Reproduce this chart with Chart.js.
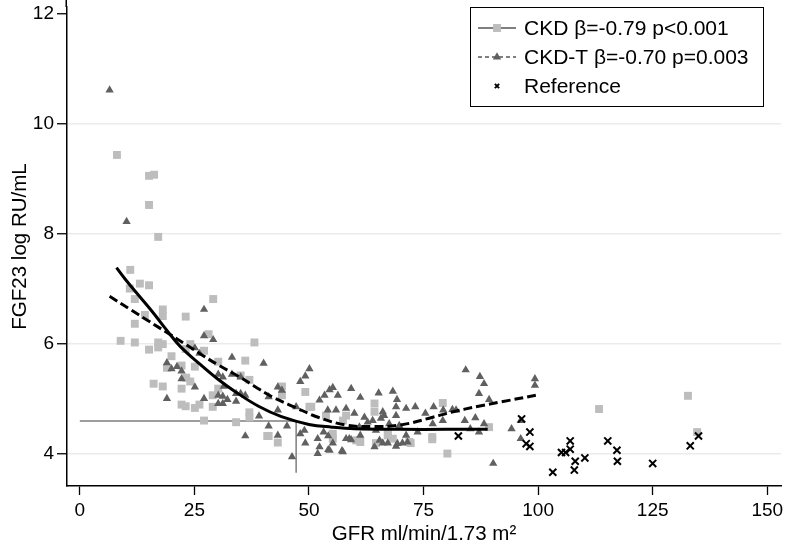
<!DOCTYPE html>
<html>
<head>
<meta charset="utf-8">
<script src="https://cdn.jsdelivr.net/npm/chart.js@4.4.1/dist/chart.umd.min.js"></script>
<style>
  html, body { margin: 0; padding: 0; background: #fff; }
  #wrap { width: 788px; height: 547px; }
</style>
</head>
<body>
<div id="wrap"><canvas id="fgfChart"></canvas></div>
<script>
// tick labels
const xTicks = [0, 25, 50, 75, 100, 125, 150];
const yTicks = [4, 6, 8, 10, 12];

// CKD (squares) [GFR, FGF23]
const ckdPts = [
  [8.1,9.44],[15.1,9.06],[16.2,9.08],[15.1,8.53],[17.1,7.95],[11.0,7.35],[13.1,7.1],[15.1,7.07],
  [10.9,7.01],[12.0,6.82],[29.1,6.82],[18.1,6.63],[18.1,6.51],[14.2,6.53],[23.1,6.50],[12.0,6.37],
  [28.1,6.18],[8.9,6.06],[12.0,6.03],[38.1,6.03],[17.1,6.03],[18.1,6.0],[17.1,5.94],[15.1,5.9],
  [24.1,6.0],[23.1,5.91],[27.1,5.88],[20.0,5.78],[36.1,5.70],[30.2,5.68],[22.2,5.61],[19.0,5.57],
  [25.1,5.59],[35.1,5.43],[37.0,5.35],[23.2,5.39],[24.1,5.32],[16.1,5.28],[18.1,5.23],[22.2,5.19],
  [30.2,5.19],[44.1,5.23],[44.1,5.07],[49.2,5.13],[29.0,5.07],[29.0,4.86],[22.2,4.9],[23.1,4.87],
  [25.1,4.84],[26.1,4.9],[50.1,4.86],[37.0,4.76],[37.0,4.67],[27.1,4.61],[34.1,4.58],[41.2,4.33],
  [43.2,4.21],[40.9,4.33],[55.2,4.37],[55.2,4.28],[60.3,4.25],[61.2,4.22],[64.6,4.2],[67.2,4.34],
  [72.2,4.2],[76.9,4.31],[76.9,4.27],[80.2,4.01],[79.2,4.93],[89.3,4.49],[64.3,4.92],[64.3,4.77],
  [58.1,4.7],[61.0,4.25],[67.2,4.37],[68.3,4.28],[71.9,4.22],[50.5,4.86],[57.4,4.61],[53.7,4.7],
  [113.3,4.82],[132.7,5.06],[134.7,4.4]
];

// CKD-T (triangles)
const ckdtPts = [
  [6.5,10.62],[10.2,8.23],[27.1,6.63],[27.1,6.15],[29.1,6.08],[25.1,5.93],[26.1,5.83],[33.2,5.76],
  [40.1,5.65],[19.0,5.66],[21.2,5.59],[20.0,5.55],[22.2,5.51],[30.2,5.45],[31.2,5.40],[33.2,5.45],
  [35.1,5.40],[50.1,5.55],[49.2,5.42],[48.1,5.32],[22.2,5.37],[25.1,5.22],[31.4,5.23],[43.2,5.22],
  [44.1,5.16],[30.2,5.07],[31.2,5.05],[34.1,5.10],[35.1,5.10],[36.1,5.07],[32.2,4.99],[34.1,4.96],
  [19.0,5.01],[27.1,5.01],[30.2,4.92],[31.2,4.92],[41.2,5.04],[47.2,4.86],[43.2,4.80],[39.1,4.69],
  [41.2,4.51],[45.2,4.51],[48.1,4.37],[49.2,4.2],[36.1,4.33],[43.2,4.34],[46.3,3.95],[51.9,4.28],
  [51.9,4.01],[54.2,4.08],[57.2,4.06],[53.2,4.4],[54.2,4.33],[55.2,4.2],[58.1,4.28],[59.2,4.26],
  [61.2,4.34],[64.3,4.13],[66.1,4.2],[67.2,4.2],[69.0,4.14],[69.3,4.19],[70.4,4.2],[71.5,4.22],
  [52.3,4.98],[53.4,5.07],[54.5,5.17],[55.2,5.21],[56.3,5.07],[59.2,5.19],[61.2,5.03],[65.2,5.11],
  [68.3,5.14],[69.2,4.99],[73.2,4.86],[71.2,4.83],[77.2,4.86],[79.3,4.80],[81.3,4.81],[82.1,4.8],
  [84.2,5.53],[87.3,5.41],[88.2,5.28],[87.1,5.1],[89.3,4.99],[99.3,5.37],[99.3,5.25],[94.2,4.46],
  [96.2,4.61],[96.2,4.28],[88.2,4.55],[87.1,4.40],[86.3,4.66],[84.0,4.61],[85.2,4.46],[52.3,4.13],
  [54.5,4.07],[57.4,4.04],[58.8,4.28],[62.8,4.58],[63.9,4.61],[65.7,4.65],[66.4,4.7],[67.5,4.55],
  [69.7,4.52],[71.2,4.34],[73.7,4.4],[75.4,4.74],[77.0,4.55],[79.2,4.61],[49.0,4.43],[61.0,4.49],
  [65.4,4.25],[64.6,4.43],[54.1,4.8],[55.9,4.8],[58.1,4.83],[59.9,4.74],[62.1,4.67],[66.1,4.77],
  [69.0,4.7],[69.0,4.86],[90.2,3.83]
];

// Reference (x markers)
const refPts = [
  [82.6,4.33],[96.4,4.64],[98.2,4.4],[97.4,4.19],[98.2,4.14],[103.2,3.67],[105.1,4.03],[106.0,4.03],
  [107.0,4.24],[107.0,4.09],[108.1,3.87],[107.9,3.71],[110.2,3.93],[115.2,4.24],[117.2,4.07],
  [117.3,3.87],[125.0,3.83],[133.2,4.15],[135.0,4.33]
];

// fitted curves
const ckdFit = [
  [8,7.39],[10,7.17],[13,6.87],[16,6.57],[19,6.25],[22,5.95],[26,5.65],[30,5.37],[34,5.13],
  [39,4.87],[44,4.68],[50,4.54],[55,4.49],[60,4.46],[70,4.45],[80,4.45],[89,4.45]
];
const ckdtFit = [
  [6.5,6.87],[11,6.63],[15,6.42],[19.6,6.18],[23,6.0],[26.9,5.79],[30,5.63],[34.9,5.4],[38,5.24],
  [42,5.04],[47,4.85],[52,4.67],[58,4.53],[64,4.5],[70,4.53],[77,4.67],[81,4.76],[87,4.87],
  [92,4.95],[99.5,5.07]
];

// reference cut-off guide
const cutLine = [[0,4.6],[47.2,4.6],[47.2,3.66]];

const xy = arr => arr.map(p => ({x: p[0], y: p[1]}));
const FONT = '"Liberation Sans", Arial, sans-serif';

const boxLegend = {
  id: 'boxLegend',
  afterDraw(chart) {
    const ctx = chart.ctx, area = chart.chartArea;
    const w = 293, h = 99;
    const left = area.right - 18 - w, top = 7;
    ctx.save();
    // y axis line runs to the top edge in the original
    ctx.strokeStyle = '#000';
    ctx.lineWidth = 1.5;
    ctx.beginPath();
    ctx.moveTo(area.left - 0.75, 0);
    ctx.lineTo(area.left - 0.75, area.top);
    ctx.stroke();

    ctx.lineWidth = 1;
    ctx.strokeRect(left + 0.5, top + 0.5, w, h);
    const items = chart.data.datasets.filter(d => d.legendRow !== undefined)
      .sort((a, b) => a.legendRow - b.legendRow);
    items.forEach((d, i) => {
      const cy = top + 21 + i * 29;
      const mx = left + 27;
      if (d.legendLine) {
        ctx.strokeStyle = '#000';
        ctx.lineWidth = 1;
        ctx.setLineDash(d.legendLine === 'dash' ? [4, 3] : []);
        ctx.beginPath();
        ctx.moveTo(left + 8, cy);
        ctx.lineTo(left + 46, cy);
        ctx.stroke();
        ctx.setLineDash([]);
      }
      ctx.fillStyle = d.backgroundColor;
      ctx.strokeStyle = d.borderColor;
      ctx.lineWidth = d.pointBorderWidth || 1;
      Chart.helpers.drawPoint(ctx, {
        pointStyle: d.pointStyle,
        radius: d.pointRadius * (d.pointStyle === 'crossRot' ? 0.6 : 1),
        borderWidth: d.pointBorderWidth
      }, mx, cy);
      ctx.fillStyle = '#000';
      ctx.font = '21px ' + FONT;
      ctx.textBaseline = 'middle';
      ctx.fillText(d.label, left + 54, cy + 1);
    });
    ctx.restore();
  }
};

const ctx = document.getElementById('fgfChart').getContext('2d');
const fgfChart = new Chart(ctx, {
  type: 'scatter',
  data: {
    datasets: [
      {
        label: 'CKD fit', data: xy(ckdFit), showLine: true, pointRadius: 0,
        borderColor: '#000', borderWidth: 3, tension: 0.4, order: 0
      },
      {
        label: 'CKD-T fit', data: xy(ckdtFit), showLine: true, pointRadius: 0,
        borderColor: '#000', borderWidth: 3, borderDash: [9, 4], tension: 0.4, order: 1
      },
      {
        label: 'Reference', data: xy(refPts), pointStyle: 'crossRot', pointRadius: 5,
        borderColor: '#000', backgroundColor: '#000', pointBorderWidth: 2, order: 2,
        legendRow: 2
      },
      {
        label: 'CKD-T \u03b2=-0.70 p=0.003', data: xy(ckdtPts), pointStyle: 'triangle', pointRadius: 4.8,
        backgroundColor: '#606060', borderColor: '#606060', pointBorderWidth: 0, order: 3,
        legendRow: 1, legendLine: 'dash'
      },
      {
        label: 'CKD \u03b2=-0.79 p<0.001', data: xy(ckdPts), pointStyle: 'rect', pointRadius: 5.6,
        backgroundColor: '#bdbdbd', borderColor: '#bdbdbd', pointBorderWidth: 0, order: 4,
        legendRow: 0, legendLine: 'solid'
      },
      {
        label: 'cut-off', data: xy(cutLine), showLine: true, pointRadius: 0,
        borderColor: '#7f7f7f', borderWidth: 1.5, tension: 0, order: 5
      }
    ]
  },
  options: {
    responsive: true,
    maintainAspectRatio: false,
    animation: false,
    layout: { padding: { top: 0, right: 5, left: 0, bottom: 0 } },
    plugins: {
      legend: { display: false },
      tooltip: { enabled: false }
    },
    scales: {
      x: {
        type: 'linear', min: -2.8, max: 153,
        afterBuildTicks: s => { s.ticks = xTicks.map(v => ({value: v})); },
        afterFit: s => { s.height = 61; s.paddingRight = 0; s.paddingLeft = 0; },
        ticks: { color: '#000', font: { size: 19, family: FONT }, padding: 4 },
        grid: { drawOnChartArea: false, tickColor: '#000', tickLength: 9, tickWidth: 1.3 },
        border: { color: '#000', width: 1.5 },
        title: {
          display: true, text: 'GFR ml/min/1.73 m\u00b2', color: '#000',
          font: { size: 20.5, family: FONT },
          padding: { top: 0, bottom: 0 }
        }
      },
      y: {
        type: 'linear', min: 3.42, max: 12.13,
        afterBuildTicks: s => { s.ticks = yTicks.map(v => ({value: v})); },
        afterFit: s => { s.width = 67; s.paddingTop = 0; s.paddingBottom = 0; },
        ticks: { color: '#000', font: { size: 19, family: FONT }, padding: 3 },
        grid: {
          color: c => (c.tick && c.tick.value === 12) ? 'rgba(0,0,0,0)' : '#ebebeb',
          lineWidth: 1.5, tickColor: '#000', tickLength: 10, tickWidth: 1.3
        },
        border: { color: '#000', width: 1.5 },
        title: {
          display: true, text: 'FGF23 log RU/mL', color: '#000',
          font: { size: 20.5, family: FONT },
          padding: { top: 8, bottom: 0 }
        }
      }
    }
  },
  plugins: [boxLegend]
});
</script>
</body>
</html>
